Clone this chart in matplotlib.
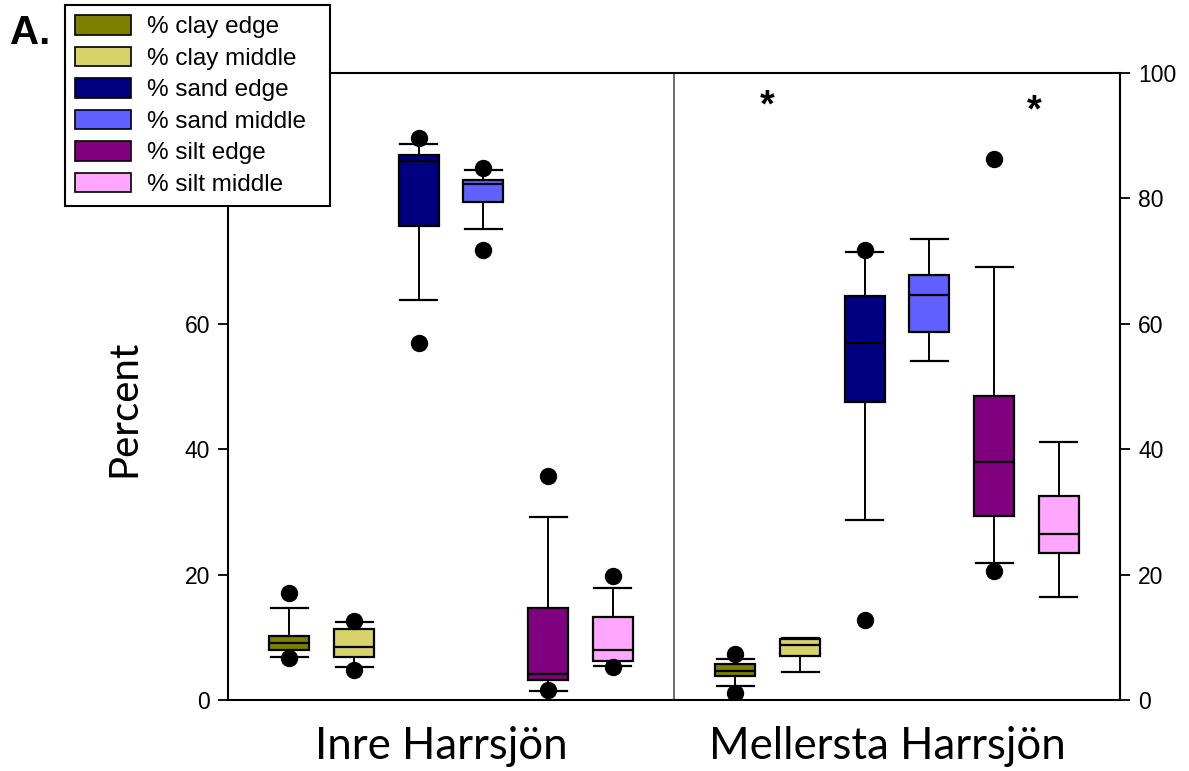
import matplotlib.pyplot as plt
from matplotlib.patches import Patch
from matplotlib.transforms import ScaledTranslation

# Données (SigmaPlot: boîte 25-75 %, moustaches 10-90 %, points 5/95 %)
sites = ["Inre Harrsjön", "Mellersta Harrsjön"]
series = ["% clay edge", "% clay middle", "% sand edge",
          "% sand middle", "% silt edge", "% silt middle"]
colors = ["#808000", "#D8D26A", "#000080", "#6060FF", "#800080", "#FFA6FF"]

# une liste par site, dans l'ordre des séries
q1_inre = [7.9, 6.9, 75.6, 79.5, 3.2, 6.2]
med_inre = [9.1, 8.5, 85.9, 82.3, 4.1, 7.9]
q3_inre = [10.2, 11.3, 86.9, 83.0, 14.6, 13.2]
wlo_inre = [6.9, 5.2, 63.8, 75.1, 1.5, 5.4]
whi_inre = [14.6, 12.4, 88.6, 84.6, 29.2, 17.9]
out_inre = [[17.1, 6.7], [12.6, 4.8], [89.7, 57.0], [84.8, 71.7], [35.8, 1.6], [19.8, 5.2]]

q1_mell = [3.8, 7.0, 47.5, 58.7, 29.4, 23.4]
med_mell = [4.7, 8.8, 57.0, 64.6, 38.0, 26.5]
q3_mell = [5.7, 9.8, 64.4, 67.8, 48.5, 32.6]
wlo_mell = [2.2, 4.4, 28.7, 54.1, 21.8, 16.4]
whi_mell = [6.6, 9.9, 71.5, 73.6, 69.0, 41.2]
out_mell = [[7.4, 1.1], [], [71.8, 12.8], [], [86.3, 20.6], []]

# astérisques de signification
star_x = [1.708, 2.307]
star_y = [94.6, 93.8]

plt.rcParams['font.family'] = ['Liberation Sans', 'DejaVu Sans']

fig = plt.figure(figsize=(11.89, 7.71), dpi=100)
ax = fig.add_axes([0.1918, 0.0921, 0.7502, 0.8132])

step = 0.145
offsets = [(i - 2.5) * step for i in range(6)]

groups = [(q1_inre, med_inre, q3_inre, wlo_inre, whi_inre, out_inre),
          (q1_mell, med_mell, q3_mell, wlo_mell, whi_mell, out_mell)]

for g, (q1, med, q3, wlo, whi, out) in enumerate(groups):
    for i in range(6):
        stats = [dict(q1=q1[i], med=med[i], q3=q3[i], whislo=wlo[i],
                      whishi=whi[i], fliers=out[i])]
        ax.bxp(stats, positions=[g + 1 + offsets[i]], widths=0.09,
               capwidths=0.083, patch_artist=True, manage_ticks=False,
               boxprops=dict(facecolor=colors[i], edgecolor="black", linewidth=1.6),
               medianprops=dict(color="black", linewidth=1.6),
               whiskerprops=dict(color="black", linewidth=1.4),
               capprops=dict(color="black", linewidth=1.6),
               flierprops=dict(marker="o", markerfacecolor="black",
                               markeredgecolor="black", markersize=11.5))

ax.axvline(1.5, color="#555555", linewidth=1.2)
for x, y in zip(star_x, star_y):
    ax.text(x, y, "*", ha="center", va="center", fontsize=27, fontweight="bold")

ax.set_xlim(0.5, 2.5)
ax.set_ylim(0, 100)
ax.set_xticks([1, 2])
ax.set_xticklabels(sites, fontsize=31.5, family="Lato")
ax.tick_params(axis="x", length=0, pad=19)
shift = ScaledTranslation(-10 / 100, 0, fig.dpi_scale_trans)
for lab in ax.get_xticklabels():
    lab.set_transform(lab.get_transform() + shift)
ax.set_yticks(range(0, 101, 20))
ax.tick_params(axis="y", direction="out", length=7, width=1.3, labelsize=16.5,
               left=True, right=True, labelleft=True, labelright=True, pad=6)
for s in ax.spines.values():
    s.set_linewidth(1.5)

ax.set_ylabel("Percent", fontsize=29, family="Lato")
ax.yaxis.set_label_coords(-0.096, 0.465)

handles = [Patch(facecolor=c, edgecolor="black", linewidth=1.2) for c in colors]
leg = fig.legend(handles, series, loc="upper left", mode="expand",
                 bbox_to_anchor=(65 / 1189, 1 - 205 / 771, 265 / 1189, 200 / 771),
                 fontsize=17.5,
                 handlelength=2.3, handleheight=0.85, labelspacing=0.345,
                 handletextpad=0.65, borderpad=0.42, borderaxespad=0,
                 fancybox=False, framealpha=1, edgecolor="black")
leg.get_frame().set_linewidth(1.5)

fig.text(10 / 1189, 1 - 33 / 771, "A.", fontsize=29, fontweight="bold",
         va="center", ha="left")

fig.savefig("out.png", dpi=100)
